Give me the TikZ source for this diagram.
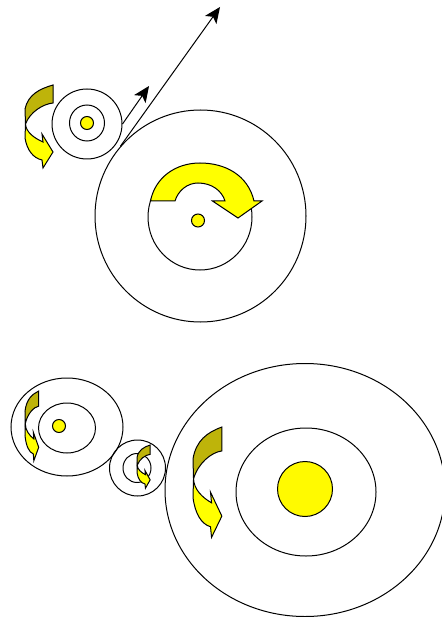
\documentclass[tikz,border=0pt]{standalone}
\usepackage{xcolor}
\usetikzlibrary{shapes.geometric, arrows.meta}
\definecolor{turnyellow}{RGB}{255, 255, 0}
\definecolor{turnolive}{RGB}{190, 180, 10}
\definecolor{hubyellow}{RGB}{255, 250, 0}
\tikzset{
  wheel/.style={ellipse, draw=black, line width=1pt, inner sep=0pt, fill=none},
  hub/.style={ellipse, draw=black, line width=1pt, inner sep=0pt, fill=hubyellow},
  arrow/.style={-{Stealth[length=16pt, width=14pt, inset=4pt]}, line width=1pt, color=black},
  turn/.style={draw=black, line width=1pt, fill=turnyellow},
  turndark/.style={draw=black, line width=1pt, fill=turnolive},
}
% x, y, xscale, yscale of a two tone turning arrow
\newcommand{\turnarrow}[4]{
  \begin{scope}[shift={(#1,#2)}, xscale=#3, yscale=#4]
    \filldraw[turndark] (28,0) -- (28,18) .. controls (18,19) and (5,27) .. (0.5,39)
      -- (0,24) .. controls (3,10) and (14,4) .. (28,0) -- cycle;
    \filldraw[turn] (0.5,39) .. controls (1,47) and (9,53) .. (18,57) -- (17,49) -- (28,67)
      -- (18,83) -- (17,75) .. controls (8,73) and (2,65) .. (0,53) -- cycle;
  \end{scope}
}
\begin{document}
\begin{tikzpicture}[x=1pt, y=-1pt]
  \useasboundingbox (0,0) rectangle (441,617);
  % upper pair
  \node[wheel, minimum width=70pt, minimum height=70pt] (pinion) at (87,124) {};
  \node[wheel, minimum width=35pt, minimum height=36pt] (pinionmid) at (87,123) {};
  \node[hub, minimum width=13pt, minimum height=13pt] (pinionhub) at (87,123) {};
  \node[wheel, minimum width=211pt, minimum height=212pt] (gear) at (200.5,216) {};
  \node[wheel, minimum width=104pt, minimum height=106pt] (gearmid) at (200,217) {};
  \node[hub, minimum width=13pt, minimum height=13pt] (gearhub) at (198,220.5) {};
  \coordinate (shorttip) at (149,86);
  \coordinate (longtip) at (220,7);
  \draw[arrow] (pinion.east) -- (shorttip);
  \draw[arrow] (gear.139) -- (longtip);
  \filldraw[turn] (150.5,201) .. controls (155,178) and (175,163) .. (200,163)
    .. controls (225,163) and (248,175) .. (254,201) -- (262,201) -- (238,218) -- (212.5,201)
    -- (225,201) .. controls (222,191) and (212,183) .. (198,183)
    .. controls (187,183) and (178,191) .. (175,201) -- cycle;
  \turnarrow{25}{85}{1}{1}
  % lower train
  \node[wheel, minimum width=112pt, minimum height=98pt] (driver) at (67,427) {};
  \node[wheel, minimum width=57pt, minimum height=50pt] (drivermid) at (67,428) {};
  \node[hub, minimum width=13pt, minimum height=13pt] (driverhub) at (59,426) {};
  \node[wheel, minimum width=56pt, minimum height=56pt] (idler) at (137.5,468) {};
  \node[wheel, minimum width=28pt, minimum height=29pt] (idlermid) at (137,468) {};
  \node[wheel, minimum width=280pt, minimum height=253pt] (wheelbig) at (305,490) {};
  \node[wheel, minimum width=140pt, minimum height=128pt] (wheelmid) at (306,492) {};
  \node[hub, minimum width=55pt, minimum height=55pt] (wheelhub) at (305,489) {};
  \turnarrow{25}{391}{0.49}{0.84}
  \turnarrow{137}{445}{0.47}{0.52}
  \turnarrow{193}{427}{1.03}{1.33}
\end{tikzpicture}
\end{document}
